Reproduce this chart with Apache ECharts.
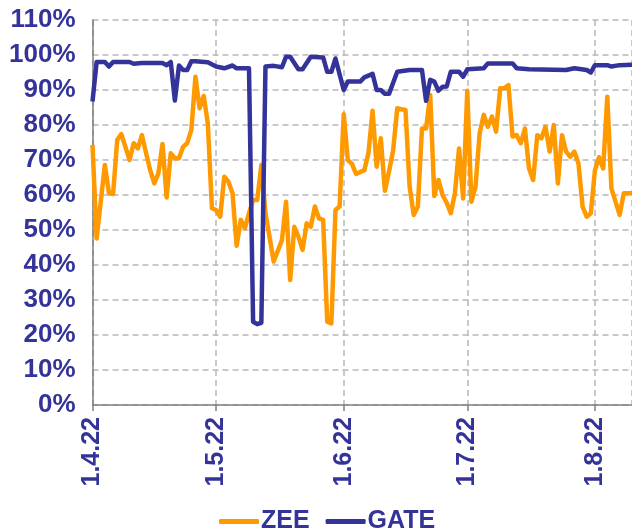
<!DOCTYPE html>
<html>
<head>
<meta charset="utf-8">
<script src="https://cdn.jsdelivr.net/npm/echarts@6/dist/echarts.min.js"></script>
<style>
html,body{margin:0;padding:0;background:#fff;}
#chart{width:632px;height:531px;}
</style>
</head>
<body>
<div id="chart"></div>
<script>
// Series names
const seriesNames = ['ZEE', 'GATE'];

// ZEE (dates and values in %)
const zeeDates = [
'2022-04-01','2022-04-02','2022-04-04','2022-04-05','2022-04-06','2022-04-07','2022-04-08','2022-04-10','2022-04-11','2022-04-12',
'2022-04-13','2022-04-15','2022-04-16','2022-04-17','2022-04-18','2022-04-19','2022-04-20','2022-04-21','2022-04-22','2022-04-23',
'2022-04-24','2022-04-25','2022-04-26','2022-04-27','2022-04-28','2022-04-29','2022-04-30','2022-05-01','2022-05-02','2022-05-03',
'2022-05-04','2022-05-05','2022-05-06','2022-05-07','2022-05-08','2022-05-09','2022-05-10','2022-05-11','2022-05-12','2022-05-13',
'2022-05-15','2022-05-17','2022-05-18','2022-05-19','2022-05-20','2022-05-21','2022-05-22','2022-05-23','2022-05-24','2022-05-25',
'2022-05-26','2022-05-27','2022-05-28','2022-05-29','2022-05-30','2022-05-31','2022-06-01','2022-06-02','2022-06-03','2022-06-04',
'2022-06-06','2022-06-07','2022-06-08','2022-06-09','2022-06-10','2022-06-11','2022-06-12','2022-06-13','2022-06-14','2022-06-15',
'2022-06-16','2022-06-17','2022-06-18','2022-06-19','2022-06-20','2022-06-21','2022-06-22','2022-06-23','2022-06-24','2022-06-25',
'2022-06-26','2022-06-27','2022-06-28','2022-06-29','2022-06-30','2022-07-01','2022-07-02','2022-07-03','2022-07-04','2022-07-05',
'2022-07-06','2022-07-07','2022-07-08','2022-07-09','2022-07-10','2022-07-11','2022-07-12','2022-07-13','2022-07-14','2022-07-15',
'2022-07-16','2022-07-17','2022-07-18','2022-07-19','2022-07-20','2022-07-21','2022-07-22','2022-07-23','2022-07-24','2022-07-25',
'2022-07-26','2022-07-27','2022-07-28','2022-07-29','2022-07-30','2022-07-31','2022-08-01','2022-08-02','2022-08-03','2022-08-04',
'2022-08-05','2022-08-06','2022-08-07','2022-08-08','2022-08-10'
];
const zeeValues = [
74.3,47.6,68.6,60.5,60.3,75.7,77.4,70,74.8,73.3,
77.1,67.1,63.3,66.2,74.6,59.3,71.9,70.5,70.5,73.8,
74.8,78.6,93.8,84.8,88.3,80.5,56.2,55.7,53.8,65.2,
63.8,60.5,45.5,52.9,50.5,54.8,58.6,58.6,68.6,54.8,
41,47.1,58.1,35.7,50.9,48.1,44.3,51.9,50.9,56.7,
53.3,52.9,23.8,23.3,55.7,56.7,83.1,70,68.9,66,
67.1,71.9,84.1,68.1,76.2,61.2,66.7,72.7,84.8,84.5,
84.3,62.4,54.3,56.7,79,79,88.6,59.7,64.3,60,
57.8,54.8,60.5,73.3,59,89.8,58.1,62.4,77.6,82.9,
79.5,82.4,78.1,90.5,90.5,91.4,76.7,77.1,74.8,79,
67.6,64.3,77.1,76.2,79.5,72.4,80,63.3,77.1,72.4,
70.9,72.4,69,56.7,53.8,54.8,67.1,70.8,67.6,88.1,
61.9,58.1,54.3,60.5,60.5
];

// GATE (dates and values in %)
const gateDates = [
'2022-04-01','2022-04-02','2022-04-04','2022-04-05','2022-04-06','2022-04-10','2022-04-11','2022-04-13','2022-04-18','2022-04-19',
'2022-04-20','2022-04-21','2022-04-22','2022-04-23','2022-04-24','2022-04-25','2022-04-26','2022-04-29','2022-05-01','2022-05-03',
'2022-05-05','2022-05-06','2022-05-09','2022-05-10','2022-05-11','2022-05-12','2022-05-13','2022-05-15','2022-05-17','2022-05-18',
'2022-05-19','2022-05-21','2022-05-22','2022-05-24','2022-05-27','2022-05-28','2022-05-29','2022-05-30','2022-06-01','2022-06-02',
'2022-06-05','2022-06-06','2022-06-08','2022-06-09','2022-06-10','2022-06-11','2022-06-12','2022-06-14','2022-06-17','2022-06-20',
'2022-06-21','2022-06-22','2022-06-23','2022-06-24','2022-06-25','2022-06-26','2022-06-27','2022-06-29','2022-06-30','2022-07-01',
'2022-07-05','2022-07-06','2022-07-12','2022-07-13','2022-07-16','2022-07-25','2022-07-27','2022-07-30','2022-07-31','2022-08-01',
'2022-08-04','2022-08-05','2022-08-07','2022-08-10'
];
const gateValues = [
86.7,98,98,96.7,98,98,97.5,97.7,97.7,97.1,
98,87,97,95.7,95.7,98.2,98.2,97.9,96.7,96.2,
97,96.2,96.2,23.8,23.1,23.5,96.7,96.9,96.5,99.5,
99.5,95.9,95.9,99.5,99.3,95.2,95.2,99,90,92.4,
92.4,93.6,94.6,90,90,88.9,88.9,95.2,95.7,95.7,
86.9,92.9,92.4,89.8,90.9,91,95.2,95.2,93.8,95.9,
96.2,97.6,97.6,96.2,95.9,95.7,96.2,95.7,95,97.1,
97.1,96.7,97.1,97.2
];

// Axis ranges / ticks
const xStart = '2022-04-01';
const xEnd = '2022-08-10';
const yMin = 0, yMax = 110, yStep = 10;

const navy = '#333399';
const orange = '#FF9900';
const FONT = 'Liberation Sans, Arial, sans-serif';

function pairs(d, v) { return d.map((x, i) => [x, v[i]]); }
function fmtDate(val) {
  const d = new Date(val);
  return d.getDate() + '.' + (d.getMonth() + 1) + '.' + String(d.getFullYear()).slice(2);
}

const chart = echarts.init(document.getElementById('chart'), null, {renderer: 'canvas'});
const DAY = 86400000;
chart.setOption({
  animation: false,
  backgroundColor: '#ffffff',
  grid: {left: 92.5, right: 0, top: 20, bottom: 126, containLabel: false},
  legend: {
    data: seriesNames,
    top: 504,
    left: 214,
    icon: 'roundRect',
    itemWidth: 40,
    itemHeight: 5,
    itemGap: 16,
    textStyle: {color: navy, fontSize: 25, fontWeight: 'bold', fontFamily: FONT, padding: [0,0,0,-3]}
  },
  xAxis: {
    type: 'time',
    min: xStart,
    max: xEnd,
    minInterval: 28 * DAY,
    maxInterval: 31 * DAY,
    axisLine: {show: true, lineStyle: {color: '#808080', width: 1.5}},
    axisTick: {show: true, length: 6, lineStyle: {color: '#808080', width: 1.5}},
    splitLine: {show: true, lineStyle: {color: '#b8b8b8', width: 1.5, type: [6, 4]}},
    axisLabel: {
      rotate: 90,
      margin: 12,
      color: navy,
      fontSize: 25,
      fontWeight: 'bold',
      fontFamily: FONT,
      formatter: fmtDate,
      showMinLabel: true,
      showMaxLabel: false,
      hideOverlap: false
    }
  },
  yAxis: {
    type: 'value',
    min: yMin,
    max: yMax,
    interval: yStep,
    axisLine: {show: true, lineStyle: {color: '#808080', width: 1.5}},
    axisTick: {show: false},
    splitLine: {show: true, lineStyle: {color: '#b8b8b8', width: 1.5, type: [6, 4]}},
    axisLabel: {
      margin: 17,
      color: navy,
      fontSize: 26,
      fontWeight: 'bold',
      fontFamily: FONT,
      formatter: '{value}%'
    }
  },
  series: [
    {
      name: seriesNames[0], type: 'line', symbol: 'none', showSymbol: false,
      data: pairs(zeeDates, zeeValues),
      lineStyle: {color: orange, width: 4.5, join: 'round'},
      itemStyle: {color: orange}
    },
    {
      name: seriesNames[1], type: 'line', symbol: 'none', showSymbol: false,
      data: pairs(gateDates, gateValues),
      lineStyle: {color: navy, width: 4.5, join: 'round'},
      itemStyle: {color: navy}
    }
  ]
});
</script>
</body>
</html>
